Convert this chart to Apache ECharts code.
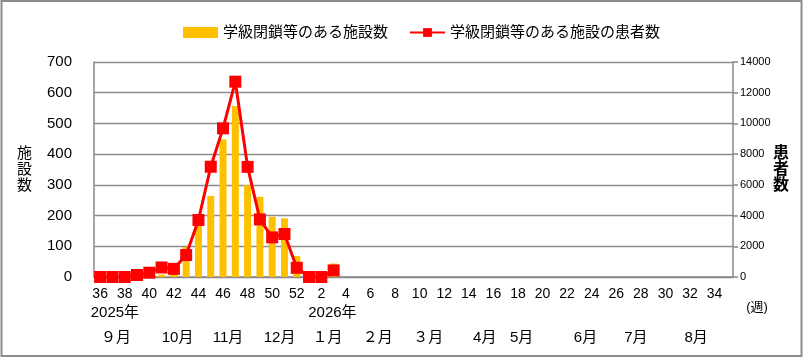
<!DOCTYPE html>
<html>
<head>
<meta charset="utf-8">
<script src="https://cdn.jsdelivr.net/npm/echarts@6/dist/echarts.min.js"></script>
<style>
html,body{margin:0;padding:0;background:#fff;}
#c{width:805px;height:359px;}
</style>
</head>
<body>
<div id="c"></div>
<script>
// ---- data ----
const weeks = ['36','37','38','39','40','41','42','43','44','45','46','47','48','49','50','51','52',
  '1','2','3','4','5','6','7','8','9','10','11','12','13','14','15','16','17','18','19','20',
  '21','22','23','24','25','26','27','28','29','30','31','32','33','34','35'];
const facilities = [0,1,0,2,5,8,10,98,175,264,448,557,299,261,196,191,68,0,0,44];
const patients = [0,0,0,130,280,620,530,1430,3710,7180,9680,12720,7170,3750,2580,2800,600,0,0,430];
const leftTicks = [0,100,200,300,400,500,600,700];
const rightTicks = [0,2000,4000,6000,8000,10000,12000,14000];
const seriesNames = ['学級閉鎖等のある施設数','学級閉鎖等のある施設の患者数'];
const yearLabels = ['2025年','2026年'];
const yearPos = [1.2, 18.9];
const monthLabels = ['９月','10月','11月','12月','１月','２月','３月','4月','5月','6月','7月','8月'];
const monthPos = [1.3, 6.3, 10.4, 14.6, 18.5, 22.6, 26.7, 31.3, 34.3, 39.5, 43.6, 48.5];

const FONT = "'Liberation Sans', 'Noto Sans CJK JP', sans-serif";
const chart = echarts.init(document.getElementById('c'), null, {renderer:'canvas'});

function pad(arr){ return weeks.map((w,i)=> i < arr.length ? arr[i] : null); }

const option = {
  animation:false,
  backgroundColor:'#fff',
  textStyle:{fontFamily:FONT},
  legend:{
    left:178, top:20,
    itemWidth:35, itemHeight:11, itemGap:21,
    textStyle:{fontSize:15, color:'#000', fontFamily:FONT},
    data:[
      {name:seriesNames[0], icon:'rect', itemHeight:10},
      {name:seriesNames[1]}
    ]
  },
  grid:{left:94, right:72, top:62, bottom:82, containLabel:false},
  xAxis:{
    type:'category',
    data:weeks,
    axisLine:{lineStyle:{color:'#888', width:1.5}},
    axisTick:{show:false},
    axisLabel:{interval:1, color:'#000', fontSize:14, margin:10, fontFamily:FONT}
  },
  yAxis:[
    {
      type:'value', min:0, max:700, interval:100,
      name:'施\n設\n数', nameLocation:'middle', nameRotate:0, nameGap:62, nameMoveOverlap:false,
      nameTextStyle:{fontSize:15, color:'#000', lineHeight:16, fontFamily:FONT},
      axisLine:{show:true, lineStyle:{color:'#888', width:1.5}},
      axisTick:{show:false},
      axisLabel:{color:'#000', fontSize:15, margin:22, fontFamily:FONT},
      splitLine:{lineStyle:{color:'#8c8c8c', width:1.3}}
    },
    {
      type:'value', min:0, max:14000, interval:2000,
      name:'患\n者\n数', nameLocation:'middle', nameRotate:0, nameGap:40, nameMoveOverlap:false,
      nameTextStyle:{fontSize:16, color:'#000', lineHeight:16, fontWeight:'bold', fontFamily:FONT},
      axisLine:{show:true, lineStyle:{color:'#888', width:1.5}},
      axisTick:{show:true, inside:false, length:5, lineStyle:{color:'#888', width:1.5}},
      axisLabel:{color:'#000', fontSize:11, margin:7, fontFamily:FONT, formatter:(v)=>String(v)},
      splitLine:{show:false}
    }
  ],
  series:[
    {
      name:seriesNames[0], type:'bar', yAxisIndex:0,
      data:pad(facilities), barWidth:7,
      itemStyle:{color:'#FFC000'}
    },
    {
      name:seriesNames[1], type:'line', yAxisIndex:1,
      data:pad(patients),
      symbol:'rect', symbolSize:12, showAllSymbol:true,
      lineStyle:{color:'#FF0000', width:3},
      itemStyle:{color:'#FF0000'},
      z:5
    }
  ]
};
chart.setOption(option);

// axis-positioned text labels (years, months, unit)
const p0 = chart.convertToPixel({xAxisIndex:0}, 0);
const p1 = chart.convertToPixel({xAxisIndex:0}, 1);
const step = p1 - p0;
const gfx = [
  {type:'rect', shape:{x:1.5, y:1, width:800, height:355}, style:{fill:null, stroke:'#8c8c8c', lineWidth:2}, silent:true}
];
yearLabels.forEach((t,i)=>{
  gfx.push({type:'text', x:p0 + yearPos[i]*step, y:313, style:{text:t, fontSize:15, fill:'#000', fontFamily:FONT, align:'center', verticalAlign:'middle'}});
});
monthLabels.forEach((t,i)=>{
  gfx.push({type:'text', x:p0 + monthPos[i]*step, y:338, style:{text:t, fontSize:15, fill:'#000', fontFamily:FONT, align:'center', verticalAlign:'middle'}});
});
gfx.push({type:'text', x:757, y:307, style:{text:'(週)', fontSize:13, fill:'#000', fontFamily:FONT, align:'center', verticalAlign:'middle'}});
chart.setOption({graphic:gfx});
</script>
</body>
</html>
